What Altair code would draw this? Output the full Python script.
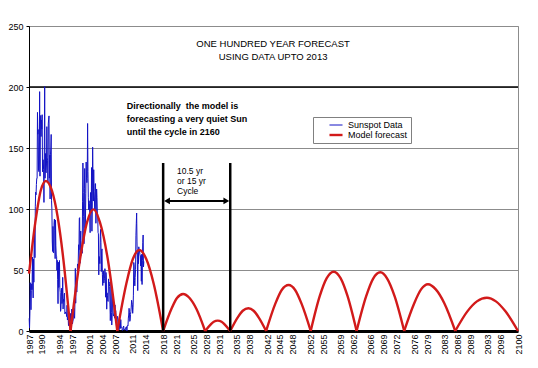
import altair as alt
import pandas as pd

FONT = "Liberation Sans"

cycle22 = [
    10.4, 2.4, 14.7, 39.6, 33.0, 17.4, 33.0, 38.7, 33.9, 60.6, 39.9, 27.1,
    59.0, 40.0, 76.2, 88.0, 60.1, 101.8, 113.8, 111.6, 120.1, 125.1, 125.1, 179.2,
    161.3, 165.1, 131.4, 130.6, 138.5, 196.2, 126.9, 168.9, 176.7, 159.4, 173.0, 165.5,
    177.3, 130.5, 140.3, 140.3, 132.2, 105.4, 149.4, 200.3, 125.2, 145.5, 131.4, 129.7,
    136.9, 167.5, 141.9, 140.0, 121.3, 169.7, 173.7, 176.3, 125.3, 144.1, 108.2, 144.4,
    150.0, 161.1, 106.7, 99.8, 73.8, 65.2, 85.7, 64.5, 63.9, 88.7, 91.8, 82.6,
    59.3, 91.0, 69.8, 62.2, 61.3, 49.8, 57.9, 42.2, 22.4, 56.4, 35.6, 48.9,
    57.8, 35.5, 31.7, 16.1, 17.8, 28.0, 35.1, 22.5, 25.7, 44.0, 18.0, 26.2,
    24.2, 29.9, 31.1, 14.0, 14.5, 15.6, 14.5, 14.3, 11.8, 21.1, 9.0, 10.0,
    11.5, 4.4, 9.2, 4.8, 5.5, 11.8, 8.2, 14.4, 1.6, 0.9, 17.9, 13.3,
]
cycle23 = [
    5.7, 7.6, 8.7, 15.5, 18.5, 12.7, 10.4, 24.4, 51.3, 22.8, 39.0, 41.2,
    31.9, 40.3, 54.8, 53.4, 56.3, 70.7, 66.6, 92.2, 92.9, 55.5, 74.0, 81.9,
    62.0, 66.3, 68.8, 63.7, 106.4, 137.7, 113.5, 93.7, 71.5, 116.7, 133.2, 84.6,
    90.1, 112.9, 138.5, 125.5, 121.6, 124.9, 170.1, 130.5, 109.7, 99.4, 106.8, 104.4,
    95.6, 80.6, 113.5, 107.7, 96.6, 134.0, 81.8, 106.4, 150.7, 125.5, 106.5, 132.2,
    114.1, 107.4, 98.4, 120.7, 120.8, 88.3, 99.6, 116.4, 109.6, 97.5, 95.5, 80.8,
    79.7, 46.0, 61.1, 60.0, 55.2, 77.4, 83.3, 72.7, 48.7, 65.5, 67.3, 46.5,
    37.3, 45.8, 49.1, 39.3, 41.5, 43.2, 51.1, 40.9, 27.7, 48.0, 43.5, 17.9,
    31.3, 29.2, 24.5, 24.2, 42.7, 39.3, 40.0, 36.4, 22.1, 8.5, 18.0, 41.2,
    15.3, 4.9, 10.6, 30.2, 22.3, 13.9, 12.2, 12.9, 14.4, 10.5, 21.4, 13.6,
    16.8, 10.7, 4.5, 3.4, 11.7, 12.1, 9.7, 6.0, 2.4, 0.9, 1.7, 10.1,
    3.3, 2.1, 9.3, 2.9, 3.2, 3.4, 0.5, 0.5, 1.1, 2.9, 4.1, 0.8,
]
cycle24 = [
    1.5, 1.4, 0.7, 1.2, 2.9, 2.6, 3.5, 0.0, 4.2, 4.6, 4.2, 10.6,
    13.1, 18.6, 15.4, 7.9, 8.8, 13.5, 16.1, 19.6, 25.2, 23.5, 21.6, 14.5,
    19.0, 29.4, 56.2, 54.4, 41.6, 37.0, 43.9, 50.6, 78.0, 88.0, 96.7, 73.0,
    58.3, 33.1, 64.2, 55.2, 69.0, 64.5, 66.5, 63.0, 61.4, 53.3, 61.8, 40.8,
    62.9, 38.1, 57.9, 72.4, 78.7, 52.5, 57.0,
]

# ---- Model forecast ----
model_year = [
    1987.0, 1988.5, 1989.7, 1990.9, 1992.3, 1993.6, 1994.9, 1996.6,
    1996.6, 1998.8, 2000.4, 2001.9, 2003.4, 2005.2, 2007.4,
    2007.4, 2009.5, 2011.0, 2012.5, 2014.1, 2015.8, 2018.0,
    2018.0, 2019.9, 2021.2, 2022.6, 2024.1, 2025.7, 2027.7,
    2027.7, 2028.9, 2029.7, 2030.6, 2031.5, 2032.3, 2033.5,
    2033.5, 2035.2, 2036.4, 2037.7, 2038.9, 2040.1, 2041.8,
    2041.8, 2043.9, 2045.4, 2047.0, 2048.5, 2050.0, 2052.1,
    2052.1, 2054.2, 2055.8, 2057.4, 2059.0, 2060.6, 2062.7,
    2062.7, 2064.9, 2066.5, 2068.2, 2069.8, 2071.5, 2073.7,
    2073.7, 2076.0, 2077.6, 2079.2, 2081.0, 2083.0, 2085.5,
    2085.5, 2088.3, 2090.5, 2092.8, 2094.9, 2097.1, 2100.0,
]
model_value = [
    47, 90, 115, 123, 115, 94, 60, 0,
    0, 59, 89, 99.7, 89, 59, 0,
    0, 39, 59, 66.4, 59, 39, 0,
    0, 18, 27, 30.3, 27, 18, 0,
    0, 5, 7.6, 8.5, 7.6, 5, 0,
    0, 11, 16.6, 18.6, 16.6, 11, 0,
    0, 22.2, 33.6, 37.7, 33.6, 22.2, 0,
    0, 28.7, 43.3, 48.6, 43.3, 28.7, 0,
    0, 28.4, 42.8, 48.1, 42.8, 28.4, 0,
    0, 22.6, 34.1, 38.3, 34.1, 22.6, 0,
    0, 16.1, 24.3, 27.3, 24.3, 16.1, 0,
]
model_arch = [1] * 8 + [k for k in range(2, 12) for _ in range(7)]

# ---- Axis tick labels ----
x_labels = [1987, 1990, 1994, 1997, 2001, 2004, 2007, 2011, 2014, 2018, 2021, 2025,
            2028, 2031, 2035, 2038, 2042, 2045, 2048, 2052, 2055, 2059, 2062, 2066,
            2069, 2072, 2076, 2079, 2083, 2086, 2089, 2093, 2096, 2100]
y_ticks = [0, 50, 100, 150, 200, 250]

# ---- Annotations ----
cycle_markers = [2018.0, 2033.5]
cycle_marker_top = 137.7
arrow_from, arrow_to, arrow_level = 2018.9, 2032.6, 106.6
title_lines = ["ONE HUNDRED YEAR FORECAST", "USING DATA UPTO 2013"]
title_x, title_y = 2043.4, [235.2, 224.6]
note_lines = ["Directionally\u00a0 the model is", "forecasting a very quiet Sun", "until the cycle in 2160"]
note_x, note_y = 2009.6, [184.4, 173.8, 163.1]
cycle_lines = ["10.5 yr", "or 15 yr", "Cycle"]
cycle_x, cycle_y = 2021.2, [131.1, 122.9, 114.8]

# ---- Build tables ----
vals = cycle22 + cycle23 + cycle24
sun = pd.DataFrame({
    "year": [1987 + (i + 0.5) / 12 for i in range(len(vals))],
    "value": vals,
    "series": "Sunspot Data",
})
model = pd.DataFrame({"year": model_year, "value": model_value, "arch": model_arch,
                      "series": "Model forecast"})

xs = alt.Scale(domain=[1987, 2100], nice=False, zero=False)
ys = alt.Scale(domain=[0, 250], nice=False)
series_dom = ["Sunspot Data", "Model forecast"]
leg = alt.Legend(title=None, orient="none", legendX=284, legendY=91,
                 fillColor="white", strokeColor="#808080", padding=3,
                 symbolType="stroke", symbolSize=170, symbolOffset=12,
                 labelFontSize=9, labelFont=FONT, labelColor="black", rowPadding=0,
                 labelOffset=4, clipHeight=10)
color = alt.Color("series:N", scale=alt.Scale(domain=series_dom, range=["#1212c4", "#d21a1a"]),
                  legend=leg)
swidth = alt.StrokeWidth("series:N", scale=alt.Scale(domain=series_dom, range=[1, 2.4]),
                         legend=leg)

x_axis = alt.Axis(values=x_labels, format="d", labelAngle=270, labelAlign="right",
                  labelBaseline="middle", grid=False, ticks=False, title=None,
                  domainColor="black", domainWidth=3, labelFontSize=9,
                  labelFont=FONT, labelColor="black", labelPadding=3,
                  labelOverlap=False, labelFlush=False, labelSeparation=0)
y_axis = alt.Axis(values=y_ticks, grid=True, gridColor="#8c8c8c", gridWidth=1,
                  ticks=True, tickSize=3, tickColor="black", title=None,
                  domainColor="black", labelFontSize=9, labelFont=FONT,
                  labelColor="black", labelPadding=3)
x_enc = alt.X("year:Q", scale=xs, axis=x_axis)
y_enc = alt.Y("value:Q", scale=ys, axis=y_axis)

sun_line = alt.Chart(sun).mark_line(interpolate="linear").encode(
    x=x_enc, y=y_enc, color=color, strokeWidth=swidth)

model_line = alt.Chart(model).mark_line(interpolate="monotone").encode(
    x=x_enc, y=y_enc, color=color, strokeWidth=swidth, detail="arch:N")

rule200 = alt.Chart(pd.DataFrame({"v": [200]})).mark_rule(color="black", strokeWidth=1.3).encode(
    y=alt.Y("v:Q", scale=ys, axis=y_axis))

markers = alt.Chart(pd.DataFrame({"year": cycle_markers, "top": cycle_marker_top, "bot": 0})).mark_rule(
    color="black", strokeWidth=2.5).encode(
    x=alt.X("year:Q", scale=xs, axis=x_axis), y=alt.Y("bot:Q", scale=ys, axis=y_axis), y2="top:Q")

arrow_line = alt.Chart(pd.DataFrame({"a": [arrow_from], "b": [arrow_to], "y": [arrow_level]})).mark_rule(
    color="black", strokeWidth=2).encode(
    x=alt.X("a:Q", scale=xs, axis=x_axis), x2="b:Q", y=alt.Y("y:Q", scale=ys, axis=y_axis))
arrow_heads = alt.Chart(pd.DataFrame({
    "x": [arrow_from, arrow_to], "y": [arrow_level] * 2,
    "shape": ["triangle-left", "triangle-right"]})).mark_point(
    filled=True, color="black", size=45, opacity=1).encode(
    x=alt.X("x:Q", scale=xs, axis=x_axis), y=alt.Y("y:Q", scale=ys, axis=y_axis),
    shape=alt.Shape("shape:N", scale=None))

def text_layer(lines, x, y, **kw):
    return alt.Chart(pd.DataFrame({"t": lines, "x": x, "y": y})).mark_text(
        font=FONT, color="black", baseline="middle", **kw).encode(
        x=alt.X("x:Q", scale=xs, axis=x_axis), y=alt.Y("y:Q", scale=ys, axis=y_axis), text="t:N")

title_txt = text_layer(title_lines, title_x, title_y, fontSize=9.5, align="center")
note_txt = text_layer(note_lines, note_x, note_y, fontSize=9, fontWeight="bold", align="left")
cycle_txt = text_layer(cycle_lines, cycle_x, cycle_y, fontSize=8.5, align="left")

chart = alt.layer(
    rule200, sun_line, model_line, markers, arrow_line, arrow_heads,
    title_txt, note_txt, cycle_txt,
).properties(
    width=489, height=305,
    padding={"left": 21, "top": 18, "right": 12, "bottom": 29},
    autosize=alt.AutoSizeParams(type="none"),
    background="white",
).configure_view(stroke="#8c8c8c", strokeWidth=1
).configure_axisX(labelOverlap=False, labelSeparation=0)

chart.save("out.html", embed_options={"renderer": "svg", "actions": False})
